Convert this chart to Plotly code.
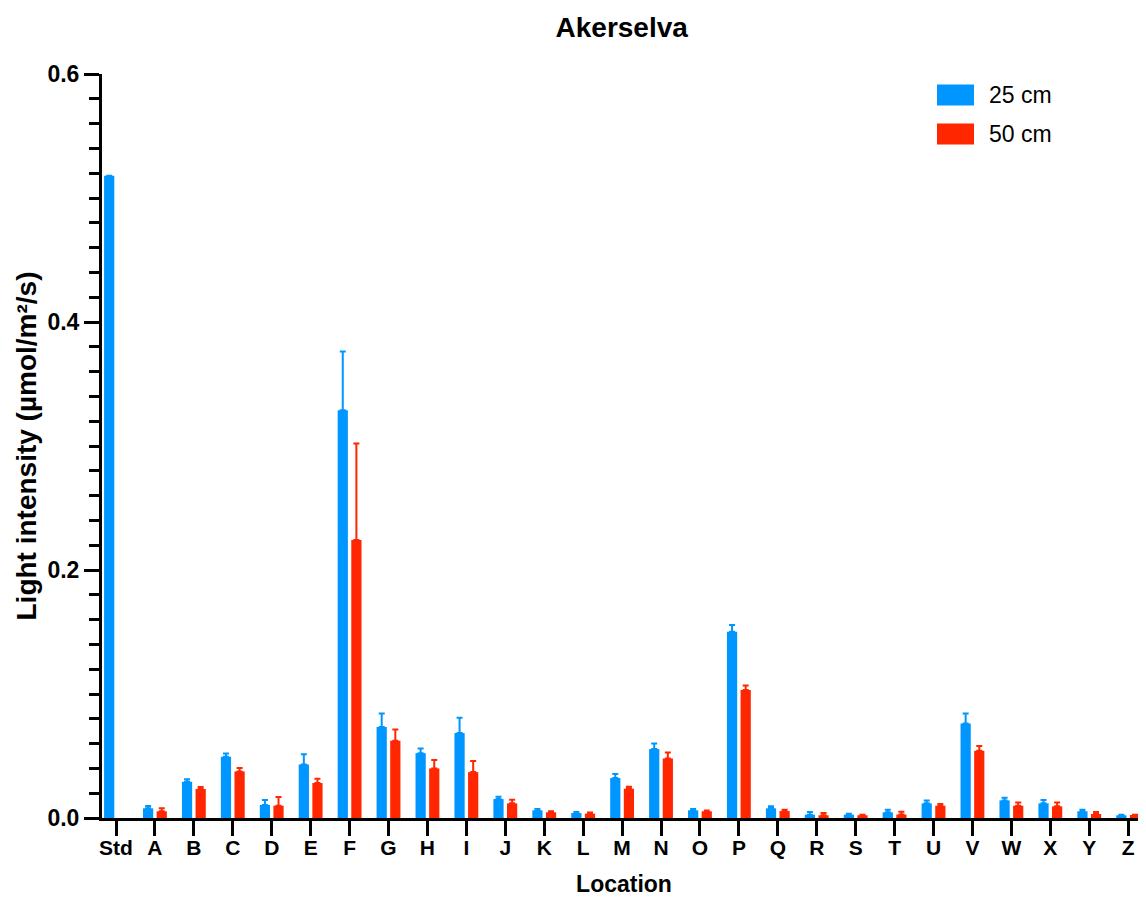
import plotly.graph_objects as go

categories = ["Std", "A", "B", "C", "D", "E", "F", "G", "H", "I", "J", "K", "L", "M",
              "N", "O", "P", "Q", "R", "S", "T", "U", "V", "W", "X", "Y", "Z"]

values_25 = [0.518, 0.0078, 0.0292, 0.0494, 0.0105, 0.0432, 0.3288, 0.0733, 0.0523, 0.0685,
             0.0153, 0.0062, 0.0040, 0.0322, 0.0556, 0.0062, 0.1503, 0.0078, 0.0027, 0.0027,
             0.0046, 0.0118, 0.0763, 0.0142, 0.0118, 0.0054, 0.0022]
errors_25 = [0.0, 0.0019, 0.0020, 0.0026, 0.0040, 0.0083, 0.0475, 0.0110, 0.0038, 0.0123,
             0.0019, 0.0010, 0.0008, 0.0032, 0.0045, 0.0010, 0.0054, 0.0016, 0.0021, 0.0008,
             0.0021, 0.0024, 0.0080, 0.0022, 0.0027, 0.0013, 0.0005]

values_50 = [None, 0.0054, 0.0234, 0.0376, 0.0099, 0.0282, 0.2241, 0.0623, 0.0400, 0.0370,
             0.0118, 0.0046, 0.0035, 0.0236, 0.0480, 0.0054, 0.1033, 0.0056, 0.0022, 0.0022,
             0.0028, 0.0099, 0.0542, 0.0099, 0.0094, 0.0032, 0.0024]
errors_50 = [None, 0.0024, 0.0016, 0.0027, 0.0070, 0.0035, 0.0779, 0.0091, 0.0067, 0.0089,
             0.0029, 0.0008, 0.0010, 0.0016, 0.0049, 0.0006, 0.0036, 0.0011, 0.0018, 0.0005,
             0.0023, 0.0014, 0.0038, 0.0027, 0.0030, 0.0016, 0.0003]

series_names = ["25 cm", "50 cm"]
colors = ["#0096FF", "#FF2600"]

FONT = "Arial, Liberation Sans, Helvetica, sans-serif"

# page body has an 8px margin; figure sized so that it fills the window
OFF = 8
W, H = 1146 - OFF, 897 - OFF
PL, PR, PT, PB = 102, 1146, 74, 818   # plot area in window pixels

fig = go.Figure()
for name, vals, errs, col in [(series_names[0], values_25, errors_25, colors[0]),
                              (series_names[1], values_50, errors_50, colors[1])]:
    fig.add_trace(go.Bar(
        x=categories, y=vals, name=name,
        marker=dict(color=col, line=dict(width=0)),
        error_y=dict(type="data", array=errs, arrayminus=[0] * len(errs),
                     symmetric=False, color=col, thickness=2, width=3),
        showlegend=False,
    ))


def px_x(s):
    return (s - PL) / (PR - PL)


def px_y(s):
    return (PB - s) / (PB - PT)


# Legend drawn as swatches + text
legend_y = [95, 134]
for i, (name, col) in enumerate(zip(series_names, colors)):
    yc = legend_y[i]
    fig.add_shape(type="rect", xref="paper", yref="paper",
                  x0=px_x(937), x1=px_x(974), y0=px_y(yc + 10.5), y1=px_y(yc - 10.5),
                  fillcolor=col, line=dict(width=0))
    fig.add_annotation(text=name, xref="paper", yref="paper",
                       x=px_x(987), y=px_y(yc), xanchor="left", yanchor="middle",
                       showarrow=False, font=dict(family=FONT, size=23, color="black"))

fig.update_layout(
    width=W, height=H,
    paper_bgcolor="white", plot_bgcolor="white",
    margin=dict(l=PL - OFF, r=0, t=PT - OFF, b=H - (PB - OFF), autoexpand=False),
    barmode="group", bargap=0.3, bargroupgap=0.25,
    title=dict(text="Akerselva", x=(621.7 - OFF) / W, xanchor="center",
               y=1 - (27 - OFF) / H, yanchor="middle", xref="container", yref="container",
               font=dict(family=FONT, size=28, color="black", weight="bold")),
    font=dict(family=FONT, color="black"),
)

std_pos = 116.0
spacing = 38.93
fig.update_xaxes(
    type="category",
    range=[-(std_pos - PL) / spacing, (PR - std_pos) / spacing],
    showline=True, linewidth=3, linecolor="black", mirror=False,
    ticks="outside", ticklen=15, tickwidth=3, tickcolor="black",
    ticklabelstandoff=-6,
    tickfont=dict(family=FONT, size=21, color="black", weight="bold"),
    showgrid=False, zeroline=False, automargin=False,
    title=dict(text="Location", standoff=21,
               font=dict(family=FONT, size=23, color="black", weight="bold")),
)

fig.update_yaxes(
    range=[0, 0.6], tickvals=[0, 0.2, 0.4, 0.6], ticktext=["0.0", "0.2", "0.4", "0.6"],
    showline=True, linewidth=3, linecolor="black",
    ticks="outside", ticklen=15, tickwidth=3, tickcolor="black",
    minor=dict(dtick=0.02, tick0=0, ticks="outside", ticklen=10, tickwidth=3, tickcolor="black",
               showgrid=False),
    tickfont=dict(family=FONT, size=23, color="black", weight="bold"),
    showgrid=False, zeroline=False, automargin=False,
    title=dict(text="Light intensity (µmol/m²/s)", standoff=3,
               font=dict(family=FONT, size=28, color="black", weight="bold")),
)

fig.write_html("out.html")
